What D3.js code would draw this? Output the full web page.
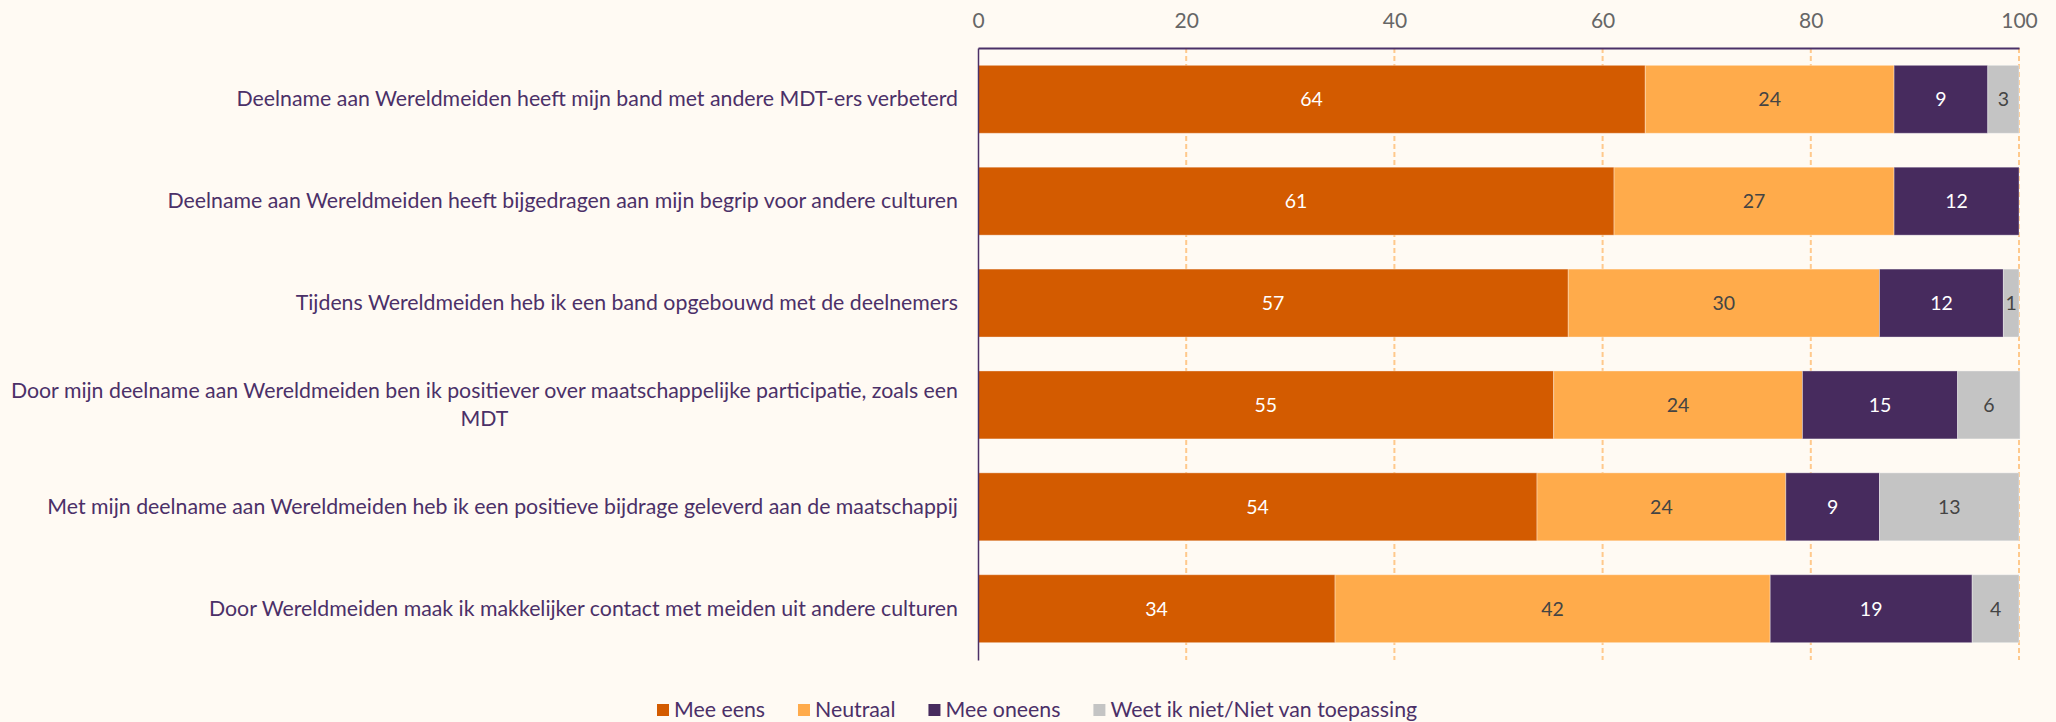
<!DOCTYPE html>
<html>
<head>
<meta charset="utf-8">
<script src="https://cdn.jsdelivr.net/npm/d3@7"></script>
<style>
  html, body { margin: 0; padding: 0; background: #fffaf3; }
  svg { display: block; font-family: Lato, "Open Sans", sans-serif; }
</style>
</head>
<body>
<svg id="chart" width="2056" height="722"></svg>
<script>
const categories = [
  "Deelname aan Wereldmeiden heeft mijn band met andere MDT-ers verbeterd",
  "Deelname aan Wereldmeiden heeft bijgedragen aan mijn begrip voor andere culturen",
  "Tijdens Wereldmeiden heb ik een band opgebouwd met de deelnemers",
  "Door mijn deelname aan Wereldmeiden ben ik positiever over maatschappelijke participatie, zoals een MDT",
  "Met mijn deelname aan Wereldmeiden heb ik een positieve bijdrage geleverd aan de maatschappij",
  "Door Wereldmeiden maak ik makkelijker contact met meiden uit andere culturen"
];
const seriesNames = ["Mee eens", "Neutraal", "Mee oneens", "Weet ik niet/Niet van toepassing"];
const meeEens   = [64.1, 61.1, 56.7, 55.3, 53.7, 34.3];
const neutraal  = [23.9, 26.9, 29.9, 23.9, 23.9, 41.8];
const meeOneens = [9.0, 12.0, 11.9, 14.9, 9.0, 19.4];
const weetNiet  = [3.0, 0, 1.5, 6.0, 13.4, 4.5];
const labelsMeeEens   = [64, 61, 57, 55, 54, 34];
const labelsNeutraal  = [24, 27, 30, 24, 24, 42];
const labelsMeeOneens = [9, 12, 12, 15, 9, 19];
const labelsWeetNiet  = [3, null, 1, 6, 13, 4];
const xTicks = [0, 20, 40, 60, 80, 100];

const colors = ["#d35b00", "#ffab4b", "#472b5e", "#c4c4c4"];
const labelColors = ["#ffffff", "#444444", "#ffffff", "#444444"];
const textColor = "#4b3068";
const labelFont = 21.3;

const svg = d3.select("#chart");
const x0 = 978, x1 = 2019, yTop = 48, yBot = 660;

const x = d3.scaleLinear().domain([0, 100]).range([x0, x1]);
const y = d3.scaleBand().domain(categories).range([yTop, yBot]).paddingInner(0.333).paddingOuter(0.17);

const seriesVals = [meeEens, neutraal, meeOneens, weetNiet];
const seriesLabels = [labelsMeeEens, labelsNeutraal, labelsMeeOneens, labelsWeetNiet];

// gridlines
svg.append("g").selectAll("line").data(xTicks.slice(1)).join("line")
  .attr("x1", d => x(d)).attr("x2", d => x(d))
  .attr("y1", yTop).attr("y2", yBot)
  .attr("stroke", "#ffc98c").attr("stroke-width", 2)
  .attr("stroke-dasharray", "5,3");

// bars
const rows = categories.map((c, i) => {
  let acc = 0;
  return seriesVals.map((s, k) => {
    const start = acc; acc += s[i];
    return { cat: c, k, start, end: acc, label: seriesLabels[k][i] };
  });
});
const gBars = svg.append("g");
rows.forEach(r => {
  r.filter(d => d.end > d.start).forEach(d => {
    gBars.append("rect")
      .attr("x", x(d.start)).attr("width", x(d.end) - x(d.start))
      .attr("y", y(d.cat)).attr("height", y.bandwidth())
      .attr("fill", colors[d.k])
      .attr("stroke", "rgba(255,255,255,0.35)").attr("stroke-width", 1);
    if (d.label !== null) {
      gBars.append("text")
        .attr("x", (x(d.start) + x(d.end)) / 2)
        .attr("y", y(d.cat) + y.bandwidth() / 2)
        .attr("dy", "0.35em")
        .attr("text-anchor", "middle")
        .attr("font-size", 19.5)
        .attr("fill", labelColors[d.k])
        .text(d.label);
    }
  });
});

// top axis
const xAxis = d3.axisTop(x).tickValues(xTicks).tickSize(0).tickPadding(20);
const gx = svg.append("g").attr("transform", `translate(0,${yTop})`).call(xAxis);
gx.select(".domain").attr("stroke", textColor).attr("stroke-width", 2);
gx.selectAll("text").attr("font-size", 21).attr("fill", "#666666").attr("font-family", "Lato, sans-serif");

// left axis
const yAxis = d3.axisLeft(y).tickSize(0).tickPadding(20);
const gy = svg.append("g").attr("transform", `translate(${x0},0)`).call(yAxis);
gy.select(".domain").attr("stroke", textColor).attr("stroke-width", 1.5);
gy.selectAll("text").attr("font-size", labelFont).attr("fill", textColor).attr("font-family", "Lato, sans-serif");

// wrap long labels: right-aligned block, lines centered in it
gy.selectAll(".tick text").each(function() {
  const t = d3.select(this);
  const full = t.text();
  const maxW = 960;
  if (this.getComputedTextLength() <= maxW) return;
  const words = full.split(" ");
  const lines = [];
  let line = [];
  t.text("");
  const probe = t.append("tspan");
  words.forEach(w => {
    line.push(w);
    probe.text(line.join(" "));
    if (probe.node().getComputedTextLength() > maxW && line.length > 1) {
      line.pop(); lines.push(line.join(" ")); line = [w];
    }
  });
  lines.push(line.join(" "));
  probe.remove();
  const widths = lines.map(l => { const s = t.append("tspan").text(l); const w = s.node().getComputedTextLength(); s.remove(); return w; });
  const blockW = d3.max(widths);
  const lh = 28;
  const cx = -20 - blockW / 2;
  t.attr("text-anchor", "middle").attr("dy", null).attr("y", 0);
  lines.forEach((l, i) => {
    t.append("tspan").attr("x", cx)
      .attr("dy", i === 0 ? (0.35 * labelFont - (lines.length - 1) * lh / 2) + "px" : lh + "px")
      .text(l);
  });
});

// legend
const legend = svg.append("g").attr("font-size", labelFont).attr("fill", textColor);
const items = [];
seriesNames.forEach((n, i) => {
  const g = legend.append("g");
  g.append("rect").attr("x", 0).attr("y", -6).attr("width", 12).attr("height", 12).attr("fill", colors[i]);
  const tx = g.append("text").attr("x", 17).attr("y", 0).attr("dy", "0.35em").text(n);
  const w = 17 + tx.node().getComputedTextLength();
  items.push({ g, w });
});
const gap = 33;
let cur = 657;
items.forEach(it => { it.g.attr("transform", `translate(${cur},710)`); cur += it.w + gap; });
</script>
</body>
</html>
